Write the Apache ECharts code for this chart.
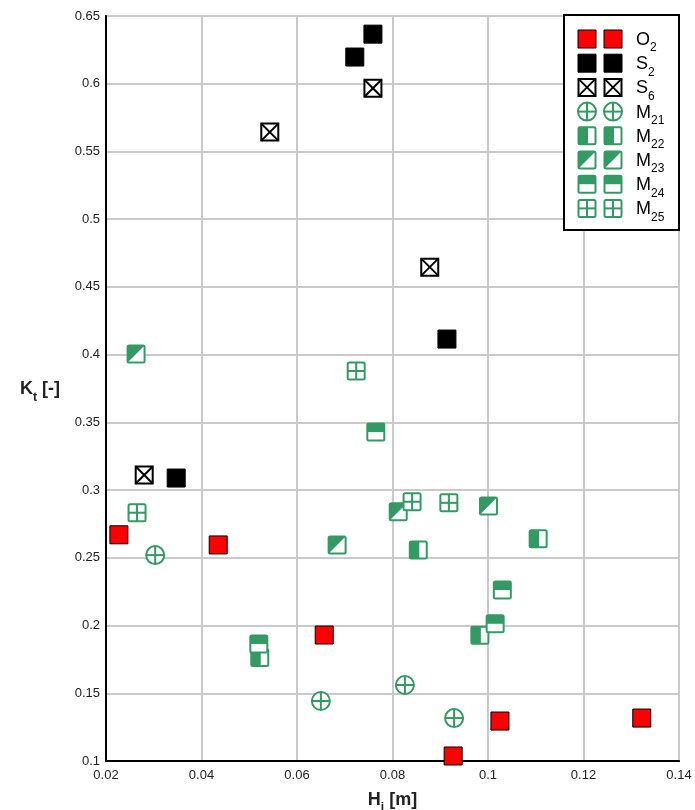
<!DOCTYPE html>
<html>
<head>
<meta charset="utf-8">
<script src="https://cdn.jsdelivr.net/npm/echarts@6/dist/echarts.min.js"></script>
<style>
html,body{margin:0;padding:0;background:#fff;}
#chart{width:695px;height:810px;}
</style>
</head>
<body>
<div id="chart"></div>
<script>
// ---- data (H_i [m], K_t [-]) ----
const xTicks = [0.02, 0.04, 0.06, 0.08, 0.1, 0.12, 0.14];
const yTicks = [0.1, 0.15, 0.2, 0.25, 0.3, 0.35, 0.4, 0.45, 0.5, 0.55, 0.6, 0.65];
const O2  = [[0.0227,0.267],[0.0435,0.2595],[0.0657,0.193],[0.0927,0.1037],[0.1025,0.1295],[0.1322,0.1317]];
const S2  = [[0.0759,0.6366],[0.0721,0.6197],[0.0914,0.4115],[0.0347,0.3089]];
const S6  = [[0.0759,0.5967],[0.0543,0.5643],[0.0878,0.4646],[0.0280,0.3111]];
const M21 = [[0.0303,0.252],[0.0650,0.1443],[0.0826,0.1561],[0.0929,0.1317]];
const M22 = [[0.0854,0.2557],[0.1105,0.264],[0.0983,0.1928],[0.0522,0.1765]];
const M23 = [[0.0263,0.4004],[0.0684,0.2595],[0.0812,0.284],[0.1001,0.2882]];
const M24 = [[0.0765,0.3428],[0.1030,0.2262],[0.1015,0.2013],[0.0520,0.1864]];
const M25 = [[0.0265,0.2833],[0.0724,0.3879],[0.0841,0.2914],[0.0918,0.2906]];
const seriesNames = ['O2','S2','S6','M21','M22','M23','M24','M25'];
const seriesData = [O2,S2,S6,M21,M22,M23,M24,M25];
const legendMain = ['O','S','S','M','M','M','M','M'];
const legendSub  = ['2','2','6','21','22','23','24','25'];

const GREEN = '#349a64';
const FONT = 'Liberation Sans, Arial, sans-serif';

function symbol(type, cx, cy) {
  const ch = [];
  if (type === 'O2' || type === 'S2') {
    const s = 18;
    ch.push({type:'rect', shape:{x:cx-s/2, y:cy-s/2, width:s, height:s},
      style:{fill: type==='O2' ? '#ff0000' : '#000000', stroke:'#000', lineWidth:1}});
    return ch;
  }
  const h = 8.5;
  if (type === 'S6') {
    ch.push({type:'rect', shape:{x:cx-h, y:cy-h, width:2*h, height:2*h}, style:{fill:'#fff', stroke:'#000', lineWidth:2}});
    ch.push({type:'line', shape:{x1:cx-h, y1:cy-h, x2:cx+h, y2:cy+h}, style:{stroke:'#000', lineWidth:2}});
    ch.push({type:'line', shape:{x1:cx+h, y1:cy-h, x2:cx-h, y2:cy+h}, style:{stroke:'#000', lineWidth:2}});
    return ch;
  }
  if (type === 'M21') {
    ch.push({type:'circle', shape:{cx:cx, cy:cy, r:9}, style:{fill:'#fff', stroke:GREEN, lineWidth:2}});
    ch.push({type:'line', shape:{x1:cx-9, y1:cy, x2:cx+9, y2:cy}, style:{stroke:GREEN, lineWidth:2}});
    ch.push({type:'line', shape:{x1:cx, y1:cy-9, x2:cx, y2:cy+9}, style:{stroke:GREEN, lineWidth:2}});
    return ch;
  }
  ch.push({type:'rect', shape:{x:cx-h, y:cy-h, width:2*h, height:2*h, r:1.5}, style:{fill:'#fff', stroke:GREEN, lineWidth:2}});
  if (type === 'M22') {
    ch.push({type:'rect', shape:{x:cx-h, y:cy-h, width:h+1, height:2*h}, style:{fill:GREEN}});
  } else if (type === 'M23') {
    ch.push({type:'polygon', shape:{points:[[cx-h,cy-h],[cx+h,cy-h],[cx-h,cy+h]]}, style:{fill:GREEN}});
  } else if (type === 'M24') {
    ch.push({type:'rect', shape:{x:cx-h, y:cy-h, width:2*h, height:h}, style:{fill:GREEN}});
  } else if (type === 'M25') {
    ch.push({type:'line', shape:{x1:cx-h, y1:cy, x2:cx+h, y2:cy}, style:{stroke:GREEN, lineWidth:2}});
    ch.push({type:'line', shape:{x1:cx, y1:cy-h, x2:cx, y2:cy+h}, style:{stroke:GREEN, lineWidth:2}});
  }
  return ch;
}

const series = seriesNames.map(function (name, i) {
  return {
    type: 'custom',
    name: name,
    data: seriesData[i],
    encode: {x: 0, y: 1},
    z: 3,
    renderItem: function (params, api) {
      const p = api.coord([api.value(0), api.value(1)]);
      return {type:'group', children: symbol(name, p[0], p[1])};
    }
  };
});

// legend drawn as graphic
const legendEls = [];
const LX = 564, LY = 15, LW = 115, LH = 215;
legendEls.push({type:'rect', shape:{x:LX, y:LY, width:LW, height:LH}, style:{fill:'#fff', stroke:'#000', lineWidth:2}, z:100});
seriesNames.forEach(function (name, i) {
  const cy = 39 + i * 24.2;
  symbol(name, 587, cy).concat(symbol(name, 613, cy)).forEach(function (el) {
    el.z = 101; legendEls.push(el);
  });
  legendEls.push({
    type:'text', z:101, x:636, y:cy,
    style:{
      text:'{m|' + legendMain[i] + '}{s|' + legendSub[i] + '}',
      verticalAlign:'middle',
      rich:{
        m:{fontSize:18, fontFamily:FONT, fill:'#000', lineHeight:20, verticalAlign:'bottom'},
        s:{fontSize:12, fontFamily:FONT, fill:'#000', lineHeight:14, verticalAlign:'bottom', padding:[0,0,-5,0]}
      }
    }
  });
});

const nameRich = {
  b:{fontSize:18, fontWeight:'bold', fontFamily:FONT, color:'#222', verticalAlign:'bottom', lineHeight:20},
  bs:{fontSize:12, fontWeight:'bold', fontFamily:FONT, color:'#222', verticalAlign:'bottom', lineHeight:14, padding:[0,0,-5,0]}
};

const chart = echarts.init(document.getElementById('chart'), null, {renderer:'canvas'});
chart.setOption({
  animation: false,
  backgroundColor: '#fff',
  grid: {left:106, right:16, top:16, bottom:49, show:true, borderColor:'#000', borderWidth:2,
    backgroundColor:'transparent', containLabel:false, outerBoundsMode:'none'},
  xAxis: {
    type:'value', min:xTicks[0], max:xTicks[xTicks.length-1], interval:0.02,
    name:'{b|H}{bs|i}{b| [m]}', nameLocation:'middle', nameGap:28,
    nameTextStyle:{rich:nameRich},
    axisLine:{show:true, lineStyle:{color:'#000', width:2}},
    axisTick:{show:false},
    axisLabel:{fontSize:13, color:'#222', fontFamily:FONT, margin:8,
      formatter:function(v){return String(+v.toFixed(2));}},
    splitLine:{show:true, lineStyle:{color:'#cacaca', width:2}}
  },
  yAxis: {
    type:'value', min:yTicks[0], max:yTicks[yTicks.length-1], interval:0.05,
    name:'{b|K}{bs|t}{b| [-]}', nameLocation:'middle', nameGap:46, nameRotate:0,
    nameTextStyle:{align:'right', rich:nameRich},
    axisLine:{show:true, lineStyle:{color:'#000', width:2}},
    axisTick:{show:false},
    axisLabel:{fontSize:13, color:'#222', fontFamily:FONT, margin:6,
      formatter:function(v){return String(+v.toFixed(2));}},
    splitLine:{show:true, lineStyle:{color:'#cacaca', width:2}}
  },
  series: series,
  graphic: {elements: legendEls}
});
</script>
</body>
</html>
